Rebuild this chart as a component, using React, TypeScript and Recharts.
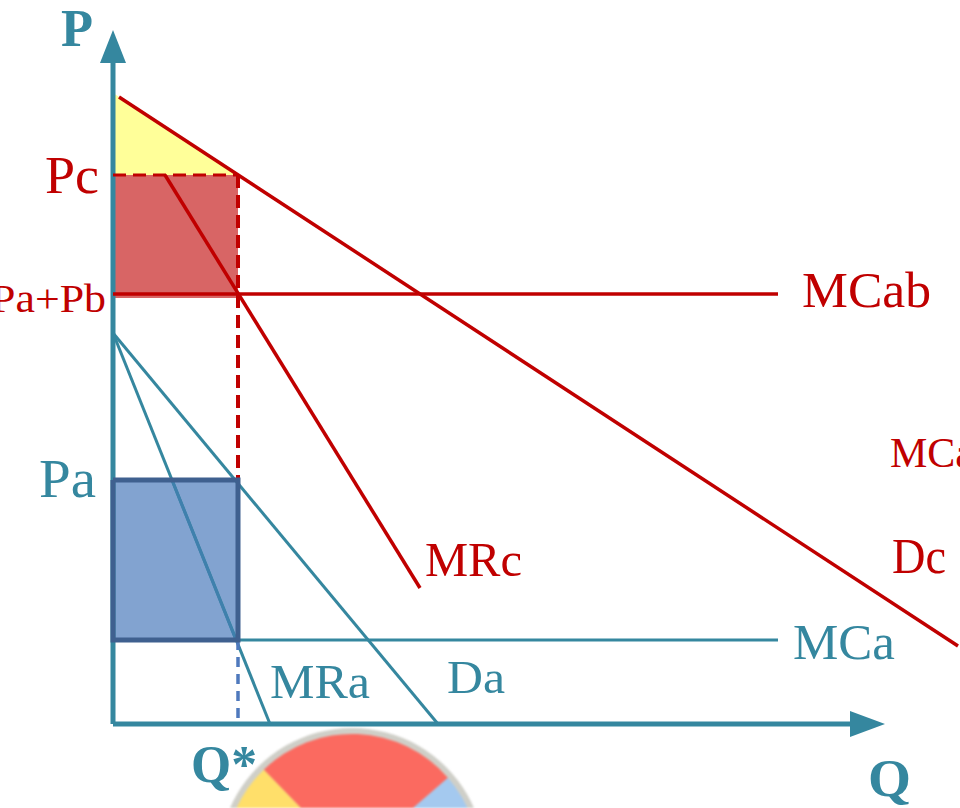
import React from 'react';
import { ComposedChart, Line, Area, XAxis, YAxis, ReferenceArea, ReferenceDot, PieChart, Pie, Cell } from 'recharts';

const RED = '#c00000';
const TEAL = '#35879f';
const BLUE_EDGE = '#3f608f';

// Q and P are measured from the origin of the diagram
const Q_DOMAIN = [-113, 847];
const P_DOMAIN = [-84, 724];

const Q_STAR = 125;
const P_C = 549;
const P_AB = 426;
const P_A = 244;
const P_MCA = 84;

const demandCQ = [6, 845];
const demandCP = [627, 78];
const mrCQ = [52, 307];
const mrCP = [549, 136];
const mcAbQ = [0, 665];
const mcAbP = [430, 430];
const demandAQ = [0, 325];
const demandAP = [391, 0];
const mrAQ = [0, 157];
const mrAP = [391, 0];
const mrAInsideQ = [59, 123];
const mrAInsideP = [244, 84];
const mcAQ = [125, 665];
const mcAP = [84, 84];
const pcDashQ = [0, 125];
const pcDashP = [549, 549];
const qRedDashP = [549, 241];
const qBlueDashP = [84, 0];
const axisYP = [0, 670];
const axisXQ = [0, 745];
const rectOutlineQ = [0, 125, 125, 0, 0];
const rectOutlineP = [244, 244, 84, 84, 244];

const triangleQ = [0, 125];
const triangleTop = [631, 549];

const pieNames = ['blue', 'red', 'yellow', 'hidden'];
const pieValues = [87, 93, 90, 90];
const pieColors = ['#a4c9ef', '#fb6a60', '#ffdf6a', '#8fd08a'];

const labelTexts = ['P', 'Pc', 'Pa+Pb', 'Pa', 'MCab', 'MCa', 'Dc', 'MRc', 'MCa', 'MRa', 'Da', 'Q*', 'Q'];
const labelQ = [-52, -68, -122, -74, 689, 777, 779, 312, 680, 157, 334, 78, 755];
const labelP = [678, 531, 412, 227, 417, 257, 151, 148, 65, 26, 31, -58, -72];
const labelSize = [52, 52, 40, 54, 50, 42, 51, 48, 50, 48, 47, 52, 52];
const labelWidth = [32, 54, 115, 57, 129, 84, 54, 97, 102, 100, 58, 66, 43];
const labelColor = [TEAL, RED, RED, TEAL, RED, RED, RED, RED, TEAL, TEAL, TEAL, TEAL, TEAL];
const labelBold = [true, false, false, false, false, false, false, false, false, false, false, true, true];

const zip = (q: number[], p: number[]) => q.map((v, i) => ({ q: v, p: p[i] }));

const lines = [
  { name: 'axisP', data: zip([0, 0], axisYP), color: TEAL, width: 5 },
  { name: 'axisQ', data: zip(axisXQ, [0, 0]), color: TEAL, width: 5 },
  { name: 'Da', data: zip(demandAQ, demandAP), color: TEAL, width: 3 },
  { name: 'MRa', data: zip(mrAQ, mrAP), color: TEAL, width: 3 },
  { name: 'MCa', data: zip(mcAQ, mcAP), color: TEAL, width: 3 },
  { name: 'Dc', data: zip(demandCQ, demandCP), color: RED, width: 3.5 },
  { name: 'MRc', data: zip(mrCQ, mrCP), color: RED, width: 3.5 },
  { name: 'MCab', data: zip(mcAbQ, mcAbP), color: RED, width: 3.5 },
  { name: 'PcDash', data: zip(pcDashQ, pcDashP), color: RED, width: 3, dash: '13 7' },
  { name: 'QRedDash', data: zip([Q_STAR, Q_STAR], qRedDashP), color: RED, width: 4, dash: '13 7' },
  { name: 'QBlueDash', data: zip([Q_STAR, Q_STAR], qBlueDashP), color: '#4f79bd', width: 3.5, dash: '10 7' },
  { name: 'MRaInside', data: zip(mrAInsideQ, mrAInsideP), color: '#3f80ad', width: 3 },
  { name: 'rectOutline', data: zip(rectOutlineQ, rectOutlineP), color: BLUE_EDGE, width: 5 },
];

const arrowUp = (props: any) => (
  <polygon points={`${props.cx},${props.cy} ${props.cx - 13},${props.cy + 33} ${props.cx + 13},${props.cy + 33}`} fill={TEAL} />
);
const arrowRight = (props: any) => (
  <polygon points={`${props.cx},${props.cy} ${props.cx - 35},${props.cy - 13} ${props.cx - 35},${props.cy + 13}`} fill={TEAL} />
);

const labelShape = (i: number) => (props: any) => (
  <text
    x={props.cx}
    y={props.cy}
    fontFamily="'Liberation Serif', serif"
    fontSize={labelSize[i]}
    fontWeight={labelBold[i] ? 700 : 400}
    fill={labelColor[i]}
    textLength={labelWidth[i]}
    lengthAdjust="spacingAndGlyphs"
  >
    {labelTexts[i]}
  </text>
);

const W = 960;
const H = 808;

export default function App() {
  const pieData = pieNames.map((name, i) => ({ name, value: pieValues[i] }));
  return (
    <div style={{ position: 'absolute', left: 0, top: 0, width: W, height: H, background: '#fff', overflow: 'hidden' }}>
      <div style={{ position: 'absolute', left: 0, top: 0, filter: 'blur(1px)' }}>
        <PieChart width={W} height={H} margin={{ top: 0, right: 0, bottom: 0, left: 0 }}>
          <Pie data={[{ name: 'rim', value: 1 }]} dataKey="value" cx={352} cy={861} innerRadius={0} outerRadius={133} fill="#cfcfc8" stroke="none" isAnimationActive={false} />
          <Pie data={pieData} dataKey="value" cx={352} cy={861} innerRadius={0} outerRadius={127} startAngle={-46} endAngle={314} stroke="none" isAnimationActive={false}>
            {pieData.map((d, i) => <Cell key={d.name} fill={pieColors[i]} />)}
          </Pie>
        </PieChart>
      </div>
      <div style={{ position: 'absolute', left: 0, top: 0 }}>
        <ComposedChart width={W} height={H} margin={{ top: 0, right: 0, bottom: 0, left: 0 }}>
          <XAxis type="number" dataKey="q" domain={Q_DOMAIN} hide />
          <YAxis type="number" dataKey="p" domain={P_DOMAIN} hide />
          <Area
            data={zip(triangleQ, triangleTop)}
            dataKey={(d: any) => [P_C, d.p]}
            type="linear"
            fill="#ffff99"
            fillOpacity={1}
            stroke="none"
            dot={false}
            activeDot={false}
            isAnimationActive={false}
          />
          <ReferenceArea x1={0} x2={Q_STAR} y1={P_C} y2={P_AB} fill="#d86565" fillOpacity={1} stroke="none" ifOverflow="visible" />
          <ReferenceArea x1={0} x2={Q_STAR} y1={P_A} y2={P_MCA} fill="#82a3d0" fillOpacity={1} stroke="none" ifOverflow="visible" />
          {lines.map((l) => (
            <Line
              key={l.name}
              data={l.data}
              dataKey="p"
              type="linear"
              stroke={l.color}
              strokeWidth={l.width}
              strokeDasharray={l.dash}
              dot={false}
              activeDot={false}
              legendType="none"
              isAnimationActive={false}
            />
          ))}
          <ReferenceDot x={0} y={694} r={0} shape={arrowUp} ifOverflow="visible" />
          <ReferenceDot x={772} y={0} r={0} shape={arrowRight} ifOverflow="visible" />
          {labelTexts.map((t, i) => (
            <ReferenceDot key={i} x={labelQ[i]} y={labelP[i]} r={0} shape={labelShape(i)} ifOverflow="visible" />
          ))}
        </ComposedChart>
      </div>
    </div>
  );
}
